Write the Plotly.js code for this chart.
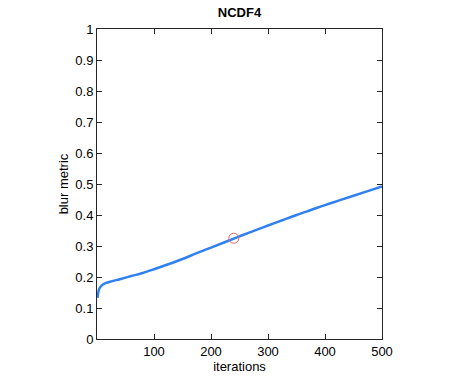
<!DOCTYPE html>
<html>
<head>
<meta charset="utf-8">
<script src="https://cdn.plot.ly/plotly-3.0.1.min.js"></script>
<style>
  html, body { margin: 0; padding: 0; background: #fff; }
  #chart { width: 463px; height: 382px; }
</style>
</head>
<body>
<div id="chart"></div>
<script>
// blur metric vs iterations
const iterations = [1, 2, 4, 7, 10, 15, 25, 40, 60, 80, 100, 125, 150, 175, 200, 225, 250, 275, 300, 325, 350, 375, 400, 425, 450, 475, 500];
const blurMetric = [0.133, 0.148, 0.162, 0.170, 0.175, 0.180, 0.186, 0.193, 0.203, 0.213, 0.225, 0.241, 0.258, 0.277, 0.295, 0.313, 0.331, 0.349, 0.366, 0.383, 0.400, 0.416, 0.432, 0.447, 0.462, 0.477, 0.492];
const markX = [240];
const markY = [0.325];
const xTicks = [100, 200, 300, 400, 500];
const yTicks = [0, 0.1, 0.2, 0.3, 0.4, 0.5, 0.6, 0.7, 0.8, 0.9, 1];
const yTickText = ['0', '0.1', '0.2', '0.3', '0.4', '0.5', '0.6', '0.7', '0.8', '0.9', '1'];

const axisCommon = {
  showgrid: false,
  zeroline: false,
  showline: true,
  linecolor: '#262626',
  linewidth: 1,
  mirror: 'ticks',
  ticks: 'inside',
  ticklen: 5,
  tickcolor: '#262626',
  tickfont: { family: 'Liberation Sans, Arial, sans-serif', size: 13, color: '#000' },
};

const data = [
  {
    x: iterations, y: blurMetric,
    type: 'scatter', mode: 'lines',
    line: { color: '#2f80f0', width: 2.5, shape: 'spline', smoothing: 1 },
    hoverinfo: 'x+y'
  },
  {
    x: markX, y: markY,
    type: 'scatter', mode: 'markers',
    marker: { symbol: 'circle-open', size: 10, color: '#f06060', line: { width: 1, color: '#f06060' } }
  }
];

const layout = {
  width: 463, height: 382,
  margin: { l: 97, r: 81, t: 29, b: 43 },
  paper_bgcolor: '#fff', plot_bgcolor: '#fff',
  showlegend: false,
  font: { family: 'Liberation Sans, Arial, sans-serif', size: 13, color: '#000' },
  title: {
    text: '<b>NCDF4</b>',
    font: { family: 'Liberation Sans, Arial, sans-serif', size: 13, color: '#000' },
    xref: 'paper', x: 0.5, xanchor: 'center',
    yref: 'container', y: 1 - 12 / 382, yanchor: 'middle'
  },
  xaxis: Object.assign({}, axisCommon, {
    range: [0, 500],
    tickvals: xTicks,
    title: { text: 'iterations', standoff: 2, font: { size: 13 } }
  }),
  yaxis: Object.assign({}, axisCommon, {
    range: [0, 1],
    tickvals: yTicks,
    ticktext: yTickText
  }),
  annotations: [{
    text: 'blur metric',
    xref: 'paper', yref: 'paper',
    x: -0.118, y: 0.5,
    xanchor: 'center', yanchor: 'middle',
    textangle: -90, showarrow: false,
    font: { family: 'Liberation Sans, Arial, sans-serif', size: 13, color: '#000' }
  }]
};

Plotly.newPlot('chart', data, layout, { displayModeBar: false, responsive: false });
</script>
</body>
</html>
